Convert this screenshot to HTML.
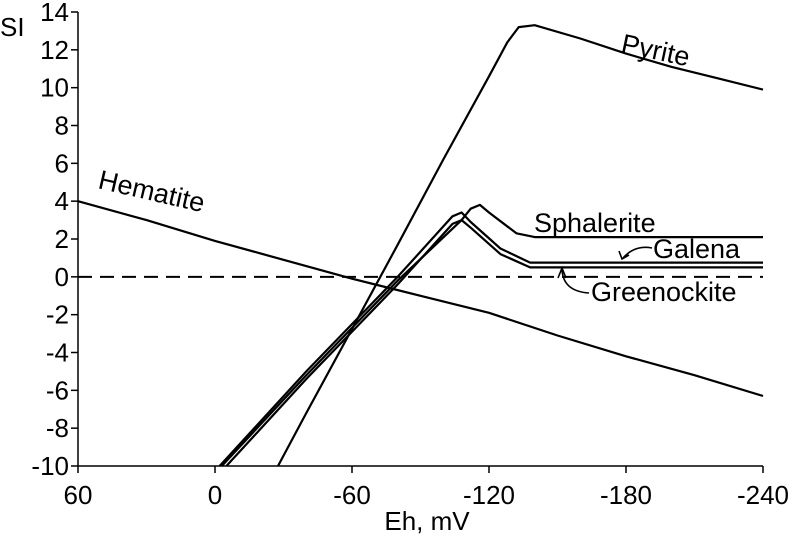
<!DOCTYPE html>
<html><head><meta charset="utf-8"><style>
body{margin:0;background:#fff}
svg{display:block;font-family:"Liberation Sans",Arial,sans-serif}
</style></head><body>
<svg id="chart" width="788" height="539" viewBox="0 0 788 539">
<g id="axes"></g><g id="series"></g><g id="labels"></g>
</svg>
<script>
const xTicks=[60,0,-60,-120,-180,-240];
const yTicks=[14,12,10,8,6,4,2,0,-2,-4,-6,-8,-10];
const pyriteEh=[-27.6,-40,-60,-80,-100,-120,-128,-133,-140,-160,-180,-200,-220,-240];
const pyriteSi=[-10,-7.2,-2.76,1.7,6.2,10.6,12.4,13.2,13.3,12.6,11.8,11.1,10.5,9.9];
const hematiteEh=[60,30,0,-30,-60,-90,-120,-150,-180,-210,-240];
const hematiteSi=[4,3,1.9,0.9,-0.1,-1.0,-1.9,-3.1,-4.2,-5.2,-6.3];
const sphaleriteEh=[-3,-40,-80,-108,-112,-116,-120,-132,-140,-240];
const sphaleriteSi=[-10,-5.2,-0.2,3.0,3.6,3.8,3.4,2.3,2.1,2.1];
const galenaEh=[-2,-40,-80,-104,-108,-112,-125,-138,-240];
const galenaSi=[-10,-5,0,3.2,3.4,2.9,1.5,0.75,0.75];
const greenockiteEh=[-5,-40,-80,-104,-108,-112,-125,-138,-240];
const greenockiteSi=[-10,-5.4,-0.4,2.8,3.0,2.6,1.2,0.5,0.5];
const NS="http://www.w3.org/2000/svg";
const x=e=>78+(60-e)*685/300;
const y=s=>12+(14-s)*454/24;
function mk(tag,attrs,parent,text){const el=document.createElementNS(NS,tag);for(const k in attrs)el.setAttribute(k,attrs[k]);if(text!==undefined)el.textContent=text;parent.appendChild(el);return el;}
const ax=document.getElementById('axes');
let l=mk('line',{x1:x(60),y1:y(14),x2:x(60),y2:y(-10),stroke:'#000','stroke-width':1.5},ax);


l=mk('line',{x1:x(60),y1:y(-10),x2:x(-240),y2:y(-10),stroke:'#000','stroke-width':1.5},ax);


yTicks.forEach(v=>{
 mk('line',{x1:x(60)-7,y1:y(v),x2:x(60),y2:y(v),stroke:'#000','stroke-width':1.5},ax);
 const t=mk('text',{x:x(60)-9,y:y(v)+9,'text-anchor':'end','font-size':26},ax,String(v));
 
 
});
xTicks.forEach(v=>{
 mk('line',{x1:x(v),y1:y(-10),x2:x(v),y2:y(-10)+7,stroke:'#000','stroke-width':1.5},ax);
 const t=mk('text',{x:x(v),y:504,'text-anchor':'middle','font-size':26},ax,String(v));
 
 
});
let t=mk('text',{x:427,y:530,'text-anchor':'middle','font-size':26},ax,'Eh, mV');


t=mk('text',{x:0,y:36,'font-size':26},ax,'SI');


l=mk('line',{x1:x(60),y1:y(0),x2:x(-240),y2:y(0),stroke:'#000','stroke-width':2,'stroke-dasharray':'14,8'},ax);


const sg=document.getElementById('series');
function line(eh,si,name){
 const d=eh.map((e,i)=>(i?'L':'M')+x(e).toFixed(1)+','+y(si[i]).toFixed(1)).join('');
 const p=mk('path',{d:d,fill:'none',stroke:'#000','stroke-width':2.2,'stroke-linejoin':'round'},sg);
 
 
}
line(pyriteEh,pyriteSi,'pyrite-line');
line(hematiteEh,hematiteSi,'hematite-line');
line(sphaleriteEh,sphaleriteSi,'sphalerite-line');
line(galenaEh,galenaSi,'galena-line');
line(greenockiteEh,greenockiteSi,'greenockite-line');
const lg=document.getElementById('labels');
t=mk('text',{x:0,y:0,'font-size':27,transform:'translate(620,52) rotate(12)'},lg,'Pyrite');


t=mk('text',{x:0,y:0,'font-size':27,transform:'translate(97,188) rotate(13)'},lg,'Hematite');


t=mk('text',{x:534,y:232,'font-size':27},lg,'Sphalerite');


t=mk('text',{x:653,y:258,'font-size':27},lg,'Galena');


t=mk('text',{x:591,y:301,'font-size':27},lg,'Greenockite');


let a=mk('path',{d:'M652,248 C642,246 632,248 623,258 M619,251 L622,259 L629,255',fill:'none',stroke:'#000','stroke-width':1.6},lg);


a=mk('path',{d:'M589,293 C573,292 563,285 562,270 M558,278 L562,268 L566,278',fill:'none',stroke:'#000','stroke-width':1.6},lg);


</script>
</body></html>
